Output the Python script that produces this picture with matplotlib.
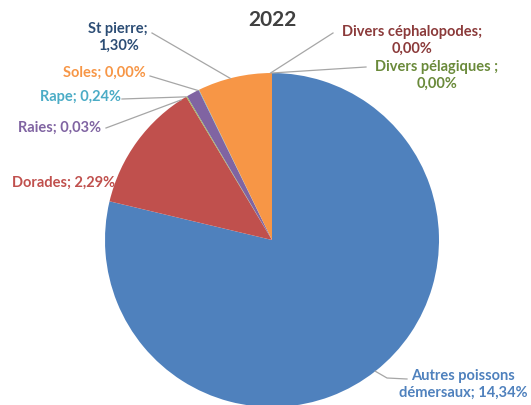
import numpy as np
import matplotlib.pyplot as plt

# data (slice shares drawn, label values printed)
categories = ['Autres poissons\ndémersaux', 'Dorades', 'Divers', 'Raies', 'Rape', 'Soles',
              'St pierre', 'Divers céphalopodes', 'Divers pélagiques ']
shares = [78.8, 12.7, 0.1, 1.25, 0.05, 7.2, 0.0, 0.0, 0.0]
label_values = ['14,34%', '2,29%', None, '0,03%', '0,24%', '0,00%', '1,30%', '0,00%', '0,00%']
colors = ['#4F81BD', '#C0504D', '#9BBB59', '#8064A2', '#4BACC6', '#F79646',
          '#2C4D75', '#772C2A', '#5F7530']
text_colors = ['#4F81BD', '#C0504D', '#9BBB59', '#8064A2', '#4BACC6', '#F79646',
               '#2C4D75', '#8B3A3A', '#6A8A3A']

W, H = 531, 405
cx, cy, R = 272, 240, 167

fig = plt.figure(figsize=(W / 100, H / 100), dpi=100)
ax = fig.add_axes([0, 0, 1, 1])

def px(x, y):
    # pixel position -> data coords (pie radius = 1)
    return (x - cx) / R, (cy - y) / R

ax.pie(shares, colors=colors, startangle=90, counterclock=False, radius=1,
       wedgeprops=dict(linewidth=0))
ax.set_xlim(-cx / R, (W - cx) / R)
ax.set_ylim((cy - H) / R, cy / R)
ax.set_aspect('equal')
ax.axis('off')

font = dict(family=['Lato', 'DejaVu Sans'], fontweight='bold', fontsize=10.5)

# label layout: text centre (pixels), leader start points (pixels), anchor angle on rim
layout = {
    0: ((463, 384), [(407, 379), (387, 378)], -51.8),
    1: ((64, 183), None, None),
    3: ((60, 128), [(106, 128)], 123),
    4: ((80, 97), [(122, 99)], 121),
    5: ((104, 73), [(150, 76)], 116.4),
    6: ((118, 37), [(152, 33)], 104.5),
    7: ((412, 40), [(333, 33)], 90.5),
    8: ((437, 75), [(366, 67)], 90),
}

for i, (tpos, lpts, ang) in layout.items():
    if i == 0:
        s = categories[i] + '; ' + label_values[i]
    elif i in (6, 7, 8):
        s = categories[i] + ';\n' + label_values[i]
    else:
        s = categories[i] + '; ' + label_values[i]
    x, y = px(*tpos)
    ax.text(x, y, s, color=text_colors[i], ha='center', va='center',
            multialignment='center', linespacing=1.25, **font)
    if lpts is not None:
        a = np.deg2rad(ang)
        xs = [px(*p)[0] for p in lpts] + [np.cos(a)]
        ys = [px(*p)[1] for p in lpts] + [np.sin(a)]
        ax.plot(xs, ys, color='#A6A6A6', lw=0.9, zorder=3)

tx, ty = px(272, 20)
ax.text(tx, ty, '2022', ha='center', va='center', color='#404040',
        family=['Lato', 'DejaVu Sans'], fontweight='bold', fontsize=15)

fig.savefig('out.png', dpi=100)
